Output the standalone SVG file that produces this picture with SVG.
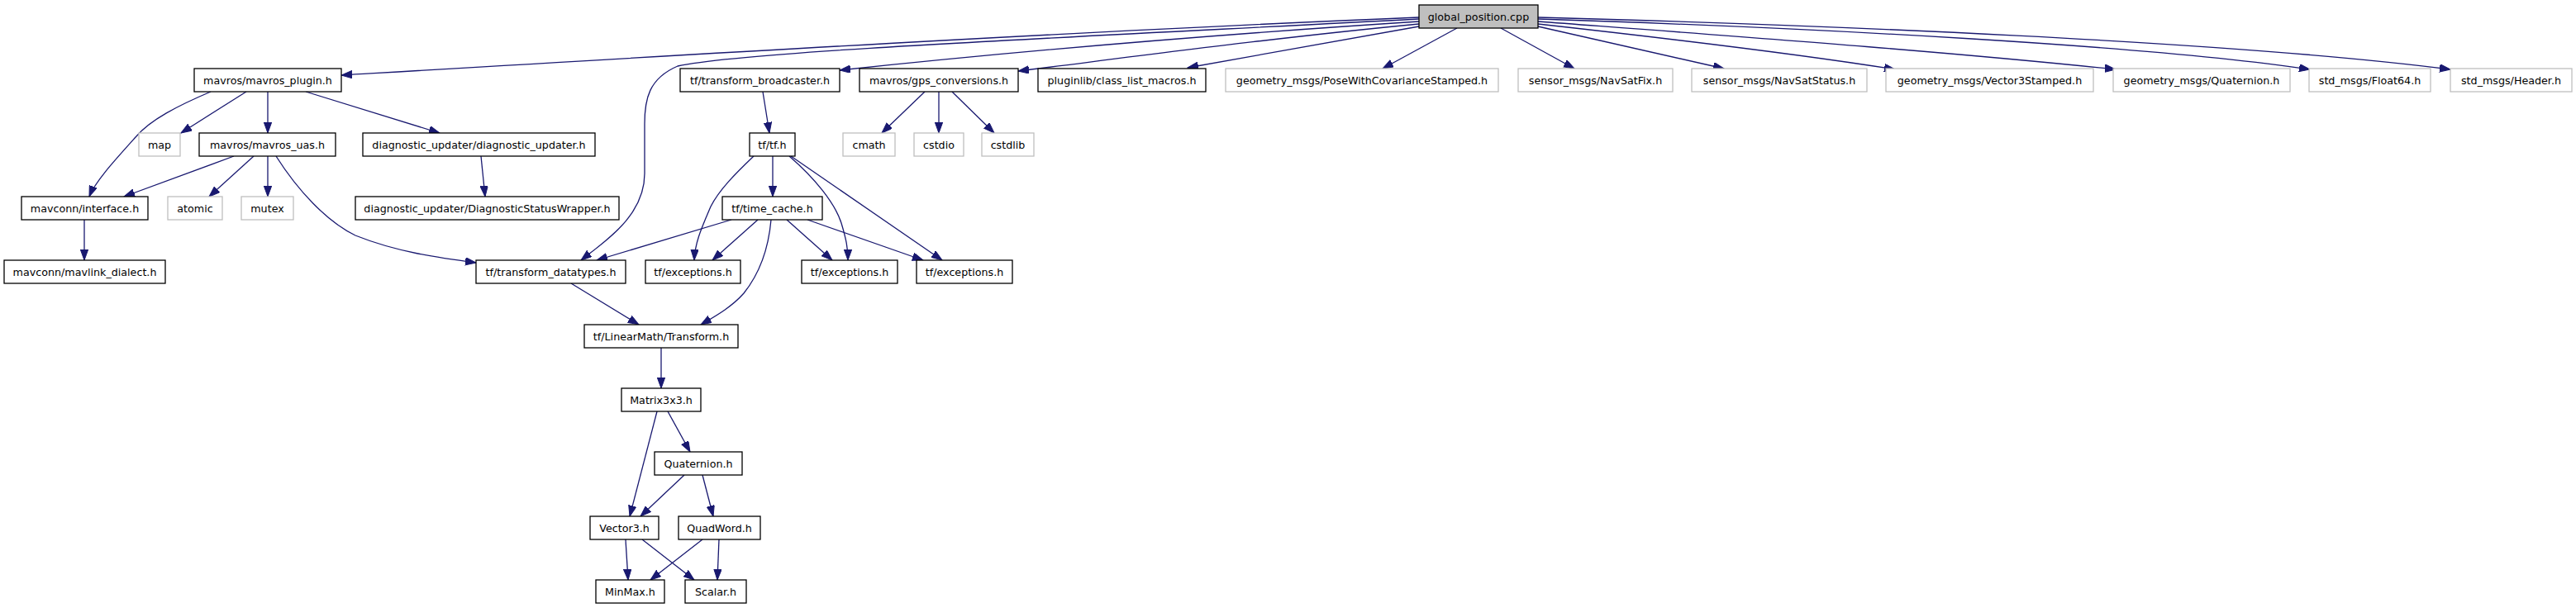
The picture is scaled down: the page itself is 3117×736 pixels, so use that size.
<svg xmlns="http://www.w3.org/2000/svg" width="3117" height="736" viewBox="0 0 3117 736">
<style>
.n rect{fill:#ffffff;stroke:#000000;stroke-width:1.3}
.n.ext rect{stroke:#bfbfbf}
.n.root rect{fill:#bfbfbf}
.n text{font-family:"DejaVu Sans",sans-serif;font-size:12.7px;fill:#000000;text-anchor:middle}
#edges path{fill:none;stroke:#191970;stroke-width:1.3;marker-end:url(#ah)}
</style>
<defs>
<marker id="ah" markerUnits="userSpaceOnUse" markerWidth="14" markerHeight="10" refX="13" refY="4.7" orient="auto">
<path d="M0,0 L13,4.7 L0,9.4 z" fill="#191970" stroke="#191970" stroke-width="1"/>
</marker>
</defs>
<rect width="3117" height="736" fill="#ffffff"/>
<g id="edges">
<path d="M1717,21 C1300,38 800,68 413,91"/>
<path d="M1717,23 C1300,45 900,62 820,80 C785,95 780,120 780,150 L780,210 C780,260 735,290 703,315"/>
<path d="M1717,26 C1500,40 1250,60 1016,85"/>
<path d="M1717,29 C1550,45 1400,65 1232,86"/>
<path d="M1717,32 L1437,82"/>
<path d="M1763,34 L1673,83"/>
<path d="M1816,34 L1905,83"/>
<path d="M1861,32 L2086,83"/>
<path d="M1861,29 C2050,50 2180,66 2293,84"/>
<path d="M1861,26 C2100,44 2350,62 2560,84"/>
<path d="M1861,23 C2200,34 2600,55 2795,84"/>
<path d="M1861,21 C2200,30 2700,50 2965,84"/>
<path d="M255,111 C215,128 182,145 165,165 C138,195 115,220 108,238"/>
<path d="M298,111 L219,161"/>
<path d="M324,111 L324,161"/>
<path d="M370,111 L532,161"/>
<path d="M283,189 L150,238"/>
<path d="M307,189 L253,238"/>
<path d="M324,189 L324,238"/>
<path d="M334,189 C360,230 395,268 430,285 C480,305 530,312 576,318"/>
<path d="M582,189 L587,238"/>
<path d="M102,266 L102,315"/>
<path d="M923,111 L931,161"/>
<path d="M1119,111 L1067,161"/>
<path d="M1136,111 L1136,161"/>
<path d="M1152,111 L1203,161"/>
<path d="M935,189 L935,238"/>
<path d="M912,189 C890,210 870,230 860,250 C847,280 841,295 840,315"/>
<path d="M955,189 C985,215 1010,245 1018,270 C1024,290 1026,300 1026,315"/>
<path d="M957,189 L1140,315"/>
<path d="M885,266 L722,315"/>
<path d="M917,266 L862,315"/>
<path d="M933,266 C930,300 920,330 900,355 C885,372 865,383 848,393"/>
<path d="M952,266 L1007,315"/>
<path d="M977,266 L1117,315"/>
<path d="M691,343 L773,393"/>
<path d="M800,421 L800,470"/>
<path d="M795,498 L762,625"/>
<path d="M808,498 L835,547"/>
<path d="M828,575 L775,625"/>
<path d="M850,575 L863,625"/>
<path d="M757,653 L760,702"/>
<path d="M777,653 L840,702"/>
<path d="M850,653 L787,702"/>
<path d="M870,653 L868,702"/>
</g>
<g id="n_root" class="n root"><rect x="1717" y="6" width="144" height="28"/><text x="1789" y="24.5">global_position.cpp</text></g>
<g id="n_plugin" class="n"><rect x="235" y="83" width="178" height="28"/><text x="324" y="101.5">mavros/mavros_plugin.h</text></g>
<g id="n_bcast" class="n"><rect x="823" y="83" width="193" height="28"/><text x="919.5" y="101.5">tf/transform_broadcaster.h</text></g>
<g id="n_gps" class="n"><rect x="1040" y="83" width="192" height="28"/><text x="1136" y="101.5">mavros/gps_conversions.h</text></g>
<g id="n_clm" class="n"><rect x="1256" y="83" width="203" height="28"/><text x="1357.5" y="101.5">pluginlib/class_list_macros.h</text></g>
<g id="n_pose" class="n ext"><rect x="1483" y="83" width="330" height="28"/><text x="1648" y="101.5">geometry_msgs/PoseWithCovarianceStamped.h</text></g>
<g id="n_fix" class="n ext"><rect x="1837" y="83" width="187" height="28"/><text x="1930.5" y="101.5">sensor_msgs/NavSatFix.h</text></g>
<g id="n_status" class="n ext"><rect x="2047" y="83" width="212" height="28"/><text x="2153" y="101.5">sensor_msgs/NavSatStatus.h</text></g>
<g id="n_v3s" class="n ext"><rect x="2282" y="83" width="251" height="28"/><text x="2407.5" y="101.5">geometry_msgs/Vector3Stamped.h</text></g>
<g id="n_quatmsg" class="n ext"><rect x="2557" y="83" width="214" height="28"/><text x="2664" y="101.5">geometry_msgs/Quaternion.h</text></g>
<g id="n_f64" class="n ext"><rect x="2794" y="83" width="147" height="28"/><text x="2867.5" y="101.5">std_msgs/Float64.h</text></g>
<g id="n_hdr" class="n ext"><rect x="2965" y="83" width="147" height="28"/><text x="3038.5" y="101.5">std_msgs/Header.h</text></g>
<g id="n_map" class="n ext"><rect x="168" y="161" width="50" height="28"/><text x="193" y="179.5">map</text></g>
<g id="n_uas" class="n"><rect x="241" y="161" width="165" height="28"/><text x="323.5" y="179.5">mavros/mavros_uas.h</text></g>
<g id="n_diag" class="n"><rect x="439" y="161" width="281" height="28"/><text x="579.5" y="179.5">diagnostic_updater/diagnostic_updater.h</text></g>
<g id="n_tf" class="n"><rect x="907" y="161" width="55" height="28"/><text x="934.5" y="179.5">tf/tf.h</text></g>
<g id="n_cmath" class="n ext"><rect x="1020" y="161" width="63" height="28"/><text x="1051.5" y="179.5">cmath</text></g>
<g id="n_cstdio" class="n ext"><rect x="1106" y="161" width="60" height="28"/><text x="1136" y="179.5">cstdio</text></g>
<g id="n_cstdlib" class="n ext"><rect x="1188" y="161" width="63" height="28"/><text x="1219.5" y="179.5">cstdlib</text></g>
<g id="n_iface" class="n"><rect x="26" y="238" width="153" height="28"/><text x="102.5" y="256.5">mavconn/interface.h</text></g>
<g id="n_atomic" class="n ext"><rect x="203" y="238" width="66" height="28"/><text x="236" y="256.5">atomic</text></g>
<g id="n_mutex" class="n ext"><rect x="292" y="238" width="63" height="28"/><text x="323.5" y="256.5">mutex</text></g>
<g id="n_dsw" class="n"><rect x="430" y="238" width="319" height="28"/><text x="589.5" y="256.5">diagnostic_updater/DiagnosticStatusWrapper.h</text></g>
<g id="n_tc" class="n"><rect x="874" y="238" width="121" height="28"/><text x="934.5" y="256.5">tf/time_cache.h</text></g>
<g id="n_dialect" class="n"><rect x="5" y="315" width="195" height="28"/><text x="102.5" y="333.5">mavconn/mavlink_dialect.h</text></g>
<g id="n_tdt" class="n"><rect x="576" y="315" width="181" height="28"/><text x="666.5" y="333.5">tf/transform_datatypes.h</text></g>
<g id="n_exc1" class="n"><rect x="781" y="315" width="115" height="28"/><text x="838.5" y="333.5">tf/exceptions.h</text></g>
<g id="n_exc2" class="n"><rect x="970" y="315" width="116" height="28"/><text x="1028" y="333.5">tf/exceptions.h</text></g>
<g id="n_exc3" class="n"><rect x="1109" y="315" width="116" height="28"/><text x="1167" y="333.5">tf/exceptions.h</text></g>
<g id="n_tr" class="n"><rect x="707" y="393" width="186" height="28"/><text x="800" y="411.5">tf/LinearMath/Transform.h</text></g>
<g id="n_m33" class="n"><rect x="752" y="470" width="96" height="28"/><text x="800" y="488.5">Matrix3x3.h</text></g>
<g id="n_q" class="n"><rect x="792" y="547" width="106" height="28"/><text x="845" y="565.5">Quaternion.h</text></g>
<g id="n_v3" class="n"><rect x="714" y="625" width="83" height="28"/><text x="755.5" y="643.5">Vector3.h</text></g>
<g id="n_qw" class="n"><rect x="821" y="625" width="99" height="28"/><text x="870.5" y="643.5">QuadWord.h</text></g>
<g id="n_mm" class="n"><rect x="721" y="702" width="83" height="28"/><text x="762.5" y="720.5">MinMax.h</text></g>
<g id="n_sc" class="n"><rect x="829" y="702" width="74" height="28"/><text x="866" y="720.5">Scalar.h</text></g>
</svg>
